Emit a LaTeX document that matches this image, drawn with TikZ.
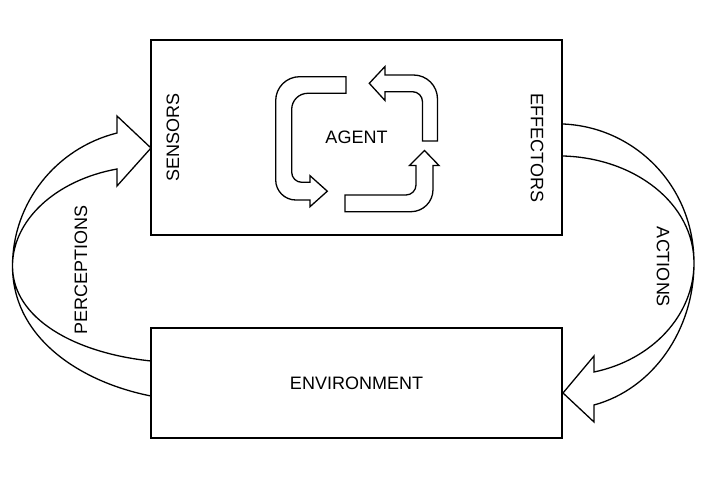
\documentclass[tikz,border=0pt]{standalone}
\usepackage{fontspec}
\setmainfont{Liberation Sans}
\usepackage{tikz}

\begin{document}
\begin{tikzpicture}[x=1pt,y=-1pt,line width=1.3pt,
        every node/.style={font=\fontsize{18}{20}\selectfont},
        box/.style={draw,minimum width=411pt,inner sep=0pt},
        blockarrow/.style={draw,fill=white,line join=miter}]
        \useasboundingbox (0,0) rectangle (724,497);
        \draw[blockarrow] (151,396) .. controls (80,382) and (12.5,337.8) .. (12.5,266)
                .. controls (12.5,203.3) and (55.5,148.4) .. (117,133)
                -- (117,116) -- (151,148) -- (117,186) -- (117,169)
                .. controls (55.5,180.2) and (12.5,220.2) .. (12.5,266)
                .. controls (12.5,318.5) and (74.5,353) .. (151,361);
        \draw[blockarrow] (563,124) .. controls (635,127) and (694,186.2) .. (694,263)
                .. controls (694,330.3) and (652.7,389.1) .. (594,405)
                -- (594,422) -- (563,393) -- (594,356) -- (594,372)
                .. controls (652.7,359.8) and (694,314.7) .. (694,263)
                .. controls (694,204) and (635.4,158) .. (563,156);
        \node[box,minimum height=195pt] (agent) at (356.5,137.5) {AGENT};
        \node[box,minimum height=110pt] (env) at (356.5,383) {ENVIRONMENT};
        \node[rotate=90] (sens) at (173,137.5) {SENSORS};
        \node[rotate=-90] (eff) at (537,148) {EFFECTORS};
        \node[rotate=90] (perc) at (81,270) {PERCEPTIONS};
        \node[rotate=-90] (act) at (663,267) {ACTIONS};
        \draw[blockarrow] (346,76.7) -- (299.7,76.7)
                .. controls (286.4,76.7) and (275.7,87.4) .. (275.7,100.7) -- (275.7,180)
                .. controls (275.7,191) and (284.7,200) .. (295.7,200)
                -- (310,200) -- (310,206.7) -- (327.3,191.2) -- (310,175.7) -- (310,182.3) -- (301.7,182.3)
                .. controls (296.2,182.3) and (291.7,177.8) .. (291.7,172.3) -- (291.7,109.3)
                .. controls (291.7,100.5) and (298.9,93.3) .. (307.7,93.3) -- (346,93.3) -- cycle;
        \draw[blockarrow] (345,195) -- (406,195)
                .. controls (411.5,195) and (416,190.5) .. (416,185)
                -- (416,165.5) -- (409.5,165.5) -- (424.5,150.5) -- (439,165.5) -- (433,165.5) -- (433,189.7)
                .. controls (433,201.8) and (423.1,211.7) .. (411,211.7) -- (345,211.7) -- cycle;
        \draw[blockarrow] (422.5,141) -- (422.5,101.7)
                .. controls (422.5,96.2) and (418,91.7) .. (412.5,91.7)
                -- (385,91.7) -- (385,100.5) -- (369.3,83.3) -- (385,66.5) -- (385,75) -- (413.5,75)
                .. controls (426.8,75) and (437.5,85.7) .. (437.5,99) -- (437.5,141) -- cycle;
\end{tikzpicture}
\end{document}
